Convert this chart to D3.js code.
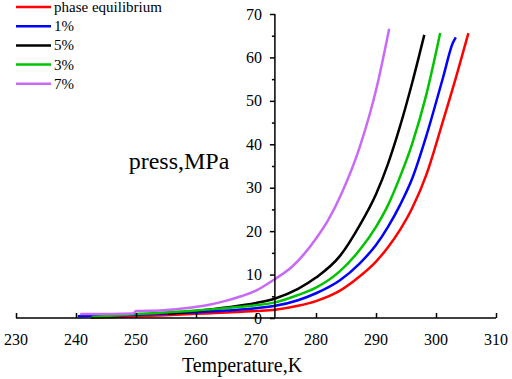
<!DOCTYPE html>
<html lang="en">
<head>
    <meta charset="UTF-8">
    <script src="https://d3js.org/d3.v7.min.js"></script>
    <style>
        body { margin: 0; background: #fff; }
        svg text { font-family: "Liberation Serif", "Times New Roman", serif !important; fill: #000; }
    </style>
    <title>press vs temperature</title>
</head>
<body>
    <script type="text/javascript">
    // данные: [T, K ; P, MPa]
    const seriesNames = ["phase equilibrium", "1%", "5%", "3%", "7%"];
    const seriesColors = ["#ff0000", "#0000ff", "#000000", "#00c400", "#c86af7"];

    const phaseEq = [
        [242.5, 0.05], [250, 0.4], [255, 0.65], [260, 0.95], [265, 1.25], [270, 1.6],
        [273.2, 1.9], [277, 2.8], [280, 3.9], [284, 6.3], [287.3, 9.6], [290, 13],
        [292, 16.3], [294, 20.3], [296, 25.2], [298.4, 33], [301.2, 45.5], [303.5, 56.2],
        [305.4, 65.6]
    ];
    const pct1 = [
        [240.3, 0.4], [250, 0.75], [260, 1.3], [265, 1.7], [270, 2.25], [273.2, 2.8],
        [277, 4.1], [280, 5.7], [284, 8.7], [287.3, 12.6], [290, 16.8], [292, 21],
        [294, 26], [296, 32], [298.4, 42], [301.2, 55.5], [302.8, 63.3], [303.3, 64.6]
    ];
    const pct5 = [
        [255.3, 1.0], [260, 1.6], [265, 2.4], [270, 3.45], [273.2, 4.5], [277, 6.7],
        [280, 9.3], [284, 14.3], [287.3, 21.4], [290, 28.5], [292, 35.5], [294, 44.1],
        [296, 54], [298.05, 65.2]
    ];
    const pct3 = [
        [242.6, 0.2], [250, 0.9], [260, 1.7], [265, 2.3], [270, 2.95], [273.2, 3.6],
        [277, 5.3], [280, 7.0], [284, 10.8], [287.3, 15.7], [290, 21], [292, 26],
        [294, 32.5], [296, 40], [298.4, 51.5], [300.7, 65.6]
    ];
    const pct7 = [
        [240.7, 0.9], [249.5, 1.05], [250, 1.6], [254, 1.75], [259.6, 2.5], [262, 3.0],
        [265.1, 4.0], [267.5, 5.0], [270, 6.3], [273.2, 9.0], [276, 11.8], [278, 14.7],
        [280.1, 18.5], [282, 22.5], [284.3, 28.8], [287.3, 39.4], [290.1, 53], [292.2, 66.6]
    ];
    const allSeries = [phaseEq, pct1, pct5, pct3, pct7];

    const xTicks = [230, 240, 250, 260, 270, 280, 290, 300, 310];
    const yTicks = [0, 10, 20, 30, 40, 50, 60, 70];
    const yMinor = [5, 15, 25, 35, 45, 55, 65];
    const yAxisAt = 273.15; // ось Y пересекает X в 273.15 K

    const w = 512;
    const h = 379;
    const serif = "'Liberation Serif', 'Times New Roman', serif";

    const x = d3.scaleLinear([230, 310], [16, 496]);
    const y = d3.scaleLinear([0, 70], [318, 14]);

    const svg = d3.select("body")
        .append("svg")
        .attr("width", w)
        .attr("height", h);

    // кривые
    const line = d3.line()
        .x(function(d) { return x(d[0]); })
        .y(function(d) { return y(d[1]); })
        .curve(d3.curveMonotoneX);

    svg.selectAll("path.curve")
        .data(allSeries)
        .enter()
        .append("path")
        .attr("class", "curve")
        .attr("d", line)
        .attr("fill", "none")
        .attr("stroke", function(d, i) { return seriesColors[i]; })
        .attr("stroke-width", 2.5);

    // ось X
    const xAxis = svg.append("g")
        .attr("transform", "translate(0," + y(0) + ")")
        .call(d3.axisTop(x).tickValues(xTicks).tickSize(5).tickFormat(""));
    xAxis.select(".domain").attr("d", "M" + x(230) + ",0H" + x(310)).attr("stroke-width", 1.5);
    xAxis.selectAll(".tick line").attr("stroke-width", 1.5);

    svg.selectAll("text.xlab")
        .data(xTicks)
        .enter()
        .append("text")
        .attr("class", "xlab")
        .attr("x", function(d) { return x(d); })
        .attr("y", 345)
        .attr("text-anchor", "middle")
        .style("font-family", serif)
        .style("font-size", "16px")
        .text(function(d) { return d; });

    // ось Y
    const yAxis = svg.append("g")
        .attr("transform", "translate(" + x(yAxisAt) + ",0)")
        .call(d3.axisLeft(y).tickValues(yTicks).tickSize(5).tickFormat(""));
    yAxis.select(".domain").attr("d", "M0," + y(0) + "V" + y(70)).attr("stroke-width", 1.5);
    yAxis.selectAll(".tick line").attr("stroke-width", 1.5);

    svg.append("g")
        .attr("transform", "translate(" + x(yAxisAt) + ",0)")
        .call(d3.axisLeft(y).tickValues(yMinor).tickSize(3).tickFormat(""))
        .call(function(g) { g.select(".domain").remove(); })
        .selectAll(".tick line").attr("stroke-width", 1.5);

    svg.selectAll("text.ylab")
        .data(yTicks)
        .enter()
        .append("text")
        .attr("class", "ylab")
        .attr("x", x(yAxisAt) - 13)
        .attr("y", function(d) { return y(d); })
        .attr("dy", "0.35em")
        .attr("text-anchor", "end")
        .style("font-family", serif)
        .style("font-size", "16px")
        .text(function(d) { return d; });

    // подписи осей
    svg.append("text")
        .attr("x", 242)
        .attr("y", 372)
        .attr("text-anchor", "middle")
        .style("font-family", serif)
        .style("font-size", "20px")
        .text("Temperature,K");

    svg.append("text")
        .attr("x", 179)
        .attr("y", 169)
        .attr("text-anchor", "middle")
        .style("font-family", serif)
        .style("font-size", "24px")
        .text("press,MPa");

    // легенда
    const legend = svg.selectAll("g.leg")
        .data(seriesNames)
        .enter()
        .append("g")
        .attr("class", "leg")
        .attr("transform", function(d, i) { return "translate(16," + (7 + i * 19.2) + ")"; });

    legend.append("line")
        .attr("x1", 0).attr("x2", 35)
        .attr("stroke", function(d, i) { return seriesColors[i]; })
        .attr("stroke-width", 2.5);

    legend.append("text")
        .attr("x", 38)
        .attr("dy", "0.33em")
        .style("font-family", serif)
        .style("font-size", "15px")
        .text(function(d) { return d; });
    </script>
</body>
</html>
